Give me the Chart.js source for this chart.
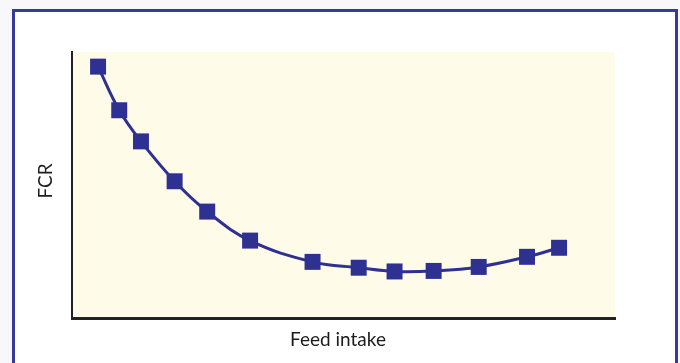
<!DOCTYPE html>
<html>
<head>
<meta charset="utf-8">
<script src="https://cdn.jsdelivr.net/npm/chart.js@4.4.1/dist/chart.umd.min.js"></script>
<style>
  html, body { margin: 0; padding: 0; background: #f8f8fb; }
  body { width: 680px; height: 363px; position: relative; overflow: hidden; }
  #frame {
    position: absolute; left: 12px; top: 9px; width: 660px; height: 400px;
    border: 3px solid #363a9c; background: #fff;
  }
  #wrap { position: absolute; left: 0; top: 0; width: 680px; height: 363px; }
</style>
</head>
<body>
<div id="frame"></div>
<div id="wrap"><canvas id="c"></canvas></div>
<script>
// Feed intake vs FCR (relative units)
const feedIntake = [4.8, 8.7, 12.7, 18.9, 24.9, 32.8, 44.3, 52.8, 59.4, 66.6, 74.9, 83.8, 89.7];
const fcr = [94.5, 78.1, 66.4, 51.4, 40.0, 29.1, 21.1, 18.9, 17.5, 17.7, 19.2, 23.0, 26.4];
const xTitle = "Feed intake";
const yTitle = "FCR";

const plotBg = {
    id: "plotBg",
    beforeDraw(chart) {
        const { ctx, chartArea } = chart;
        ctx.save();
        ctx.fillStyle = "#fffbe9";
        ctx.fillRect(chartArea.left, chartArea.top, chartArea.width, chartArea.height);
        ctx.restore();
    }
};

const axisTitles = {
    id: "axisTitles",
    afterDraw(chart) {
        const { ctx, chartArea } = chart;
        ctx.save();
        ctx.fillStyle = "#1c1c1c";
        ctx.font = "19px Lato";
        ctx.textAlign = "center";
        ctx.textBaseline = "middle";
        ctx.fillText(xTitle, 338, 340);
        ctx.translate(46, 181);
        ctx.rotate(-Math.PI / 2);
        ctx.fillText(yTitle, 0, 0);
        ctx.restore();
    }
};

new Chart(document.getElementById("c"), {
    type: "line",
    plugins: [plotBg, axisTitles],
    data: {
        datasets: [{
            data: feedIntake.map((x, i) => ({ x: x, y: fcr[i] })),
            borderColor: "#2e3192",
            backgroundColor: "#2e3192",
            borderWidth: 3,
            tension: 0.4,
            pointStyle: "rect",
            pointRadius: 11.3,
            pointBorderWidth: 0,
            pointHoverRadius: 11.3
        }]
    },
    options: {
        responsive: true,
        maintainAspectRatio: false,
        animation: false,
        events: [],
        layout: { padding: { left: 72, top: 52, right: 65, bottom: 45 } },
        plugins: { legend: { display: false }, tooltip: { enabled: false } },
        scales: {
            x: {
                type: "linear", min: 0, max: 100,
                grid: { display: false, drawTicks: false },
                ticks: { display: false },
                border: { display: true, color: "#222", width: 3 }
            },
            y: {
                type: "linear", min: 0, max: 100,
                grid: { display: false, drawTicks: false },
                ticks: { display: false },
                border: { display: true, color: "#222", width: 2 }
            }
        }
    }
});
</script>
</body>
</html>
